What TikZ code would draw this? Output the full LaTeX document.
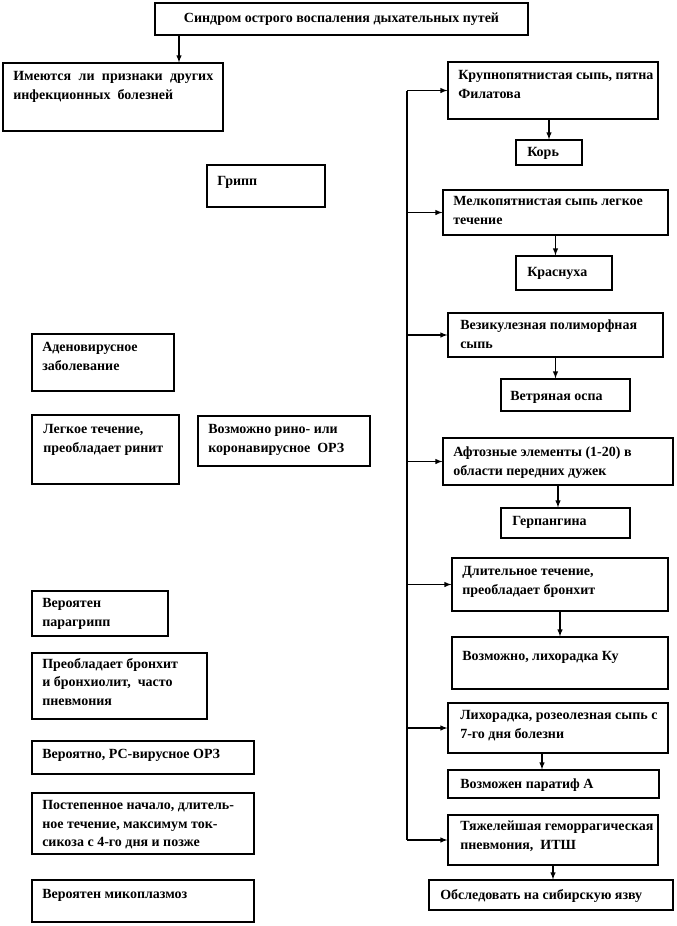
\documentclass[tikz,border=0pt]{standalone}
\usepackage{fontspec}
\setmainfont{Liberation Serif}
\usetikzlibrary{fit}

\tikzset{
  cadre/.style={draw, line width=0.9pt, inner sep=0pt},
  texte/.style={anchor=north west, align=left, inner sep=0pt,
    font=\bfseries\fontsize{10.5pt}{14pt}\selectfont},
  fleche/.style={-latex, line width=0.8pt},
}

\begin{document}
\begin{tikzpicture}[x=0.75pt,y=-0.75pt]

\useasboundingbox (0,0) rectangle (676,926);

% Titre
\node[cadre, fit={(155,3) (528,35)}] (syndrome) {};
\node[texte, anchor=center] (syndrome-t) at (syndrome.center)
{Синдром острого воспаления дыхательных путей};

% Colonne gauche
\node[cadre, fit={(3,63) (223,131)}] (question) {};
\node[texte] (question-t) at (13,71)
{\hbox to 150pt{Имеются\hfill ли\hfill признаки\hfill других}\\инфекционных\ \ болезней};

\draw[fleche]
(syndrome.south -| 179,0)
--
(question.north -| 179,0);

\node[cadre, fit={(207,165) (325,207)}] (gripp) {};
\node[texte] (gripp-t) at (217,176) {Грипп};

\node[cadre, fit={(32,334) (174,391)}] (adeno) {};
\node[texte] (adeno-t) at (42,342) {Аденовирусное\\заболевание};

\node[cadre, fit={(32,415) (179,484)}] (rinit) {};
\node[texte] (rinit-t) at (43,424) {Легкое течение,\\преобладает ринит};

\node[cadre, fit={(198,416) (370,466)}] (rino) {};
\node[texte] (rino-t) at (208,424) {Возможно рино- или\\коронавирусное\ \ ОРЗ};

\node[cadre, fit={(32,591) (168,636)}] (paragripp) {};
\node[texte] (paragripp-t) at (42,598) {Вероятен\\парагрипп};

\node[cadre, fit={(32,653) (207,719)}] (bronchit) {};
\node[texte] (bronchit-t) at (42,658) {Преобладает бронхит\\и бронхиолит,\ \ часто\\пневмония};

\node[cadre, fit={(32,741) (254,774)}] (rs) {};
\node[texte] (rs-t) at (42,749) {Вероятно, РС-вирусное ОРЗ};

\node[cadre, fit={(32,793) (254,854)}] (graduel) {};
\node[texte] (graduel-t) at (42,800) {Постепенное начало, длитель-\\ное течение, максимум ток-\\сикоза с 4-го дня и позже};

\node[cadre, fit={(32,880) (254,922)}] (myco) {};
\node[texte] (myco-t) at (42,889) {Вероятен микоплазмоз};

% Colonne droite
\node[cadre, fit={(448,62) (658,119)}] (krupno) {};
\node[texte] (krupno-t) at (458,70) {Крупнопятнистая сыпь, пятна\\Филатова};

\node[cadre, fit={(516,140) (582,165)}] (kor) {};
\node[texte] (kor-t) at (527,147) {Корь};

\node[cadre, fit={(443,190) (668,235)}] (melko) {};
\node[texte] (melko-t) at (453,196) {Мелкопятнистая сыпь легкое\\течение};

\node[cadre, fit={(516,256) (612,290)}] (krasnukha) {};
\node[texte] (krasnukha-t) at (527,267) {Краснуха};

\node[cadre, fit={(448,313) (663,357)}] (vezik) {};
\node[texte] (vezik-t) at (460,320) {Везикулезная полиморфная\\сыпь};

\node[cadre, fit={(501,379) (630,411)}] (ospa) {};
\node[texte] (ospa-t) at (510,391) {Ветряная оспа};

\node[cadre, fit={(443,438) (673,485)}] (afty) {};
\node[texte] (afty-t) at (453,447) {Афтозные элементы (1-20) в\\области передних дужек};

\node[cadre, fit={(501,508) (630,538)}] (gerpangina) {};
\node[texte] (gerpangina-t) at (512,516) {Герпангина};

\node[cadre, fit={(452,558) (668,611)}] (dlit) {};
\node[texte] (dlit-t) at (462,566) {Длительное течение,\\преобладает бронхит};

\node[cadre, fit={(452,637) (668,689)}] (ku) {};
\node[texte] (ku-t) at (462,651) {Возможно, лихорадка Ку};

\node[cadre, fit={(448,703) (668,753)}] (likhor) {};
\node[texte] (likhor-t) at (460,710) {Лихорадка, розеолезная сыпь с\\7-го дня болезни};

\node[cadre, fit={(448,770) (659,798)}] (paratif) {};
\node[texte] (paratif-t) at (460,779) {Возможен паратиф А};

\node[cadre, fit={(448,815) (658,865)}] (tyazh) {};
\node[texte] (tyazh-t) at (460,821) {Тяжелейшая геморрагическая\\пневмония,\ \ ИТШ};

\node[cadre, fit={(429,880) (673,910)}] (sibir) {};
\node[texte] (sibir-t) at (440,889) {Обследовать на сибирскую язву};

% Tronc vertical
\coordinate (tronc) at (407,89);

\draw[line width=0.8pt]
(tronc |- krupno.west)
--
(tronc |- tyazh.west);

\draw[fleche] (tronc |- krupno.west) -- (krupno.west);
\draw[fleche] (tronc |- melko.west) -- (melko.west);
\draw[fleche] (tronc |- vezik.west) -- (vezik.west);
\draw[fleche] (tronc |- afty.west) -- (afty.west);
\draw[fleche] (tronc |- dlit.west) -- (dlit.west);
\draw[fleche] (tronc |- likhor.west) -- (likhor.west);
\draw[fleche] (tronc |- tyazh.west) -- (tyazh.west);

% Flèches vers le bas
\draw[fleche] ([xshift=-3pt]krupno.south) -- ([xshift=-3pt]krupno.south |- kor.north);
\draw[fleche] (melko.south) -- (melko.south |- krasnukha.north);
\draw[fleche] (vezik.south) -- (vezik.south |- ospa.north);
\draw[fleche] (afty.south) -- (afty.south |- gerpangina.north);
\draw[fleche] (dlit.south) -- (dlit.south |- ku.north);
\draw[fleche] ([xshift=-12pt]likhor.south) -- ([xshift=-12pt]likhor.south |- paratif.north);
\draw[fleche] (tyazh.south) -- (tyazh.south |- sibir.north);

\end{tikzpicture}
\end{document}
